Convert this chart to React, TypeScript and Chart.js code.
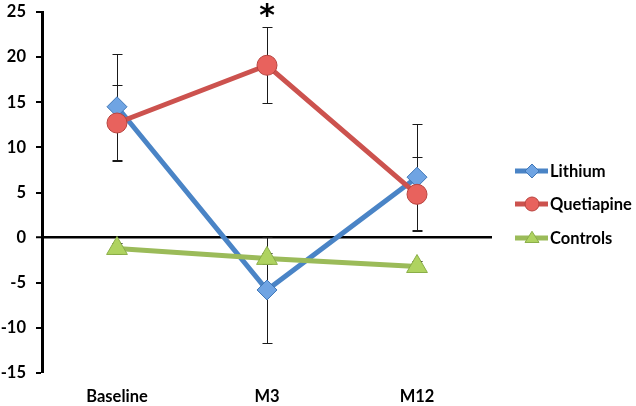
import React, { useEffect, useRef } from 'react';
import { Chart, registerables } from 'chart.js';

Chart.register(...registerables);

const categories = ['Baseline', 'M3', 'M12'];
const seriesNames = ['Lithium', 'Quetiapine', 'Controls'];
const lithium = [14.5, -5.8, 6.7];
const lithiumErr = [5.9, 5.9, 5.9];
const quetiapine = [12.7, 19.1, 4.8];
const quetiapineErr = [4.2, 4.2, 4.1];
const controls = [-1.2, -2.3, -3.2];
const controlsErr = [0.6, 0.6, 0.6];
const significance = ['', '*', ''];
const yMin = -15;
const yMax = 25;
const yStep = 5;

const lineColors = ['#4A84C6', '#CC524E', '#9BBB59'];
const markerColors = ['#6FA4E3', '#E8625D', '#AFD360'];
const markerBorders = ['#3F77B8', '#B8443F', '#8AAE48'];
const markerStyles = ['rectRot', 'circle', 'triangle'];
const markerRadii = [10, 10, 12];
const errors = [lithiumErr, quetiapineErr, controlsErr];

const FONT = 'Lato, "Open Sans", "DejaVu Sans", sans-serif';

function drawMarker(ctx: CanvasRenderingContext2D, style: string, x: number, y: number, r: number) {
  ctx.beginPath();
  if (style === 'circle') {
    ctx.arc(x, y, r, 0, Math.PI * 2);
  } else if (style === 'rectRot') {
    ctx.moveTo(x, y - r);
    ctx.lineTo(x + r, y);
    ctx.lineTo(x, y + r);
    ctx.lineTo(x - r, y);
    ctx.closePath();
  } else {
    const h = r * 1.6;
    ctx.moveTo(x, y - h * 0.6);
    ctx.lineTo(x + r, y + h * 0.4);
    ctx.lineTo(x - r, y + h * 0.4);
    ctx.closePath();
  }
  ctx.fill();
  ctx.stroke();
}

const errorBarPlugin = {
  id: 'errorBars',
  beforeDatasetsDraw(chart: any) {
    const ctx = chart.ctx;
    const yScale = chart.scales.y;
    ctx.save();
    ctx.strokeStyle = '#1a1a1a';
    ctx.lineWidth = 1;
    chart.data.datasets.forEach((ds: any, di: number) => {
      const meta = chart.getDatasetMeta(di);
      const errs = errors[di];
      meta.data.forEach((pt: any, i: number) => {
        const v = ds.data[i];
        const e = errs[i];
        const x = Math.round(pt.x) + 0.5;
        const yt = Math.round(yScale.getPixelForValue(v + e)) + 0.5;
        const yb = Math.round(yScale.getPixelForValue(v - e)) + 0.5;
        ctx.beginPath();
        ctx.moveTo(x, yt);
        ctx.lineTo(x, yb);
        ctx.moveTo(x - 5, yt);
        ctx.lineTo(x + 5, yt);
        ctx.moveTo(x - 5, yb);
        ctx.lineTo(x + 5, yb);
        ctx.stroke();
      });
    });
    ctx.restore();
  },
};

const annotationPlugin = {
  id: 'sigMarks',
  afterDatasetsDraw(chart: any) {
    const ctx = chart.ctx;
    const xScale = chart.scales.x;
    const yScale = chart.scales.y;
    ctx.save();
    ctx.fillStyle = '#000';
    ctx.font = 'bold 30px "DejaVu Sans", sans-serif';
    ctx.textAlign = 'center';
    ctx.textBaseline = 'alphabetic';
    significance.forEach((s, i) => {
      if (!s) return;
      let top = -Infinity;
      chart.data.datasets.forEach((ds: any, di: number) => {
        top = Math.max(top, ds.data[i] + errors[di][i]);
      });
      const x = xScale.getPixelForValue(i);
      const cy = yScale.getPixelForValue(top) - 17;
      const m = ctx.measureText(s);
      const asc = m.actualBoundingBoxAscent;
      const desc = m.actualBoundingBoxDescent;
      ctx.fillText(s, x, cy + (asc - desc) / 2);
    });
    ctx.restore();
  },
};

const legendPlugin = {
  id: 'customLegend',
  afterDraw(chart: any) {
    const ctx = chart.ctx;
    const area = chart.chartArea;
    const x0 = area.right + 23;
    const rowYs = [171, 204, 238];
    ctx.save();
    seriesNames.forEach((name, i) => {
      const y = rowYs[i];
      ctx.strokeStyle = lineColors[i];
      ctx.lineWidth = 5;
      ctx.beginPath();
      ctx.moveTo(x0, y);
      ctx.lineTo(x0 + 33, y);
      ctx.stroke();
      ctx.fillStyle = markerColors[i];
      ctx.strokeStyle = markerBorders[i];
      ctx.lineWidth = 1;
      drawMarker(ctx, markerStyles[i], x0 + 17, y, 7);
      ctx.fillStyle = '#000';
      ctx.font = `bold 16.5px ${FONT}`;
      ctx.textAlign = 'left';
      ctx.textBaseline = 'middle';
      ctx.fillText(name, x0 + 35, y + 1);
    });
    ctx.restore();
  },
};

export default function App() {
  const canvasRef = useRef<HTMLCanvasElement>(null);

  useEffect(() => {
    if (!canvasRef.current) return;
    const seriesData = [lithium, quetiapine, controls];
    const chart = new Chart(canvasRef.current, {
      type: 'line',
      data: {
        labels: categories,
        datasets: seriesNames.map((name, i) => ({
          label: name,
          data: seriesData[i],
          borderColor: lineColors[i],
          borderWidth: 5,
          pointStyle: markerStyles[i] as any,
          pointRadius: markerRadii[i],
          pointHoverRadius: markerRadii[i],
          pointBackgroundColor: markerColors[i],
          pointBorderColor: markerBorders[i],
          pointBorderWidth: 1,
          tension: 0,
          fill: false,
          order: 2 - i,
        })),
      },
      options: {
        responsive: false,
        animation: false,
        events: [],
        layout: { autoPadding: false, padding: { top: 12, right: 144, left: 0, bottom: 0 } },
        plugins: {
          legend: { display: false },
          tooltip: { enabled: false },
          title: { display: false },
        },
        scales: {
          x: {
            type: 'category',
            offset: true,
            grid: { display: false },
            border: { display: false },
            ticks: {
              color: '#000',
              padding: 6,
              font: { family: FONT, size: 16.5, weight: 'bold' },
              maxRotation: 0,
            },
            afterFit(scale: any) {
              scale.height = 33;
              scale.paddingLeft = 0;
              scale.paddingRight = 0;
            },
          },
          y: {
            min: yMin,
            max: yMax,
            ticks: {
              stepSize: yStep,
              color: '#000',
              padding: 10,
              font: { family: FONT, size: 16.5, weight: 'bold' },
            },
            grid: {
              drawOnChartArea: true,
              drawTicks: true,
              tickLength: 6,
              tickColor: '#000',
              tickWidth: 2,
              color: (c: any) => (c.tick && c.tick.value === 0 ? '#000' : 'rgba(0,0,0,0)'),
              lineWidth: (c: any) => (c.tick && c.tick.value === 0 ? 2.5 : 0),
            },
            border: { display: true, color: '#000', width: 3 },
            afterFit(scale: any) {
              scale.width = 42;
              scale.paddingTop = 0;
              scale.paddingBottom = 0;
            },
          },
        },
      },
      plugins: [errorBarPlugin, annotationPlugin, legendPlugin],
    });
    return () => chart.destroy();
  }, []);

  return (
    <div style={{ position: 'absolute', left: 0, top: 0, width: 636, height: 406, background: '#fff' }}>
      <canvas ref={canvasRef} width={636} height={406} style={{ display: 'block' }} />
    </div>
  );
}
